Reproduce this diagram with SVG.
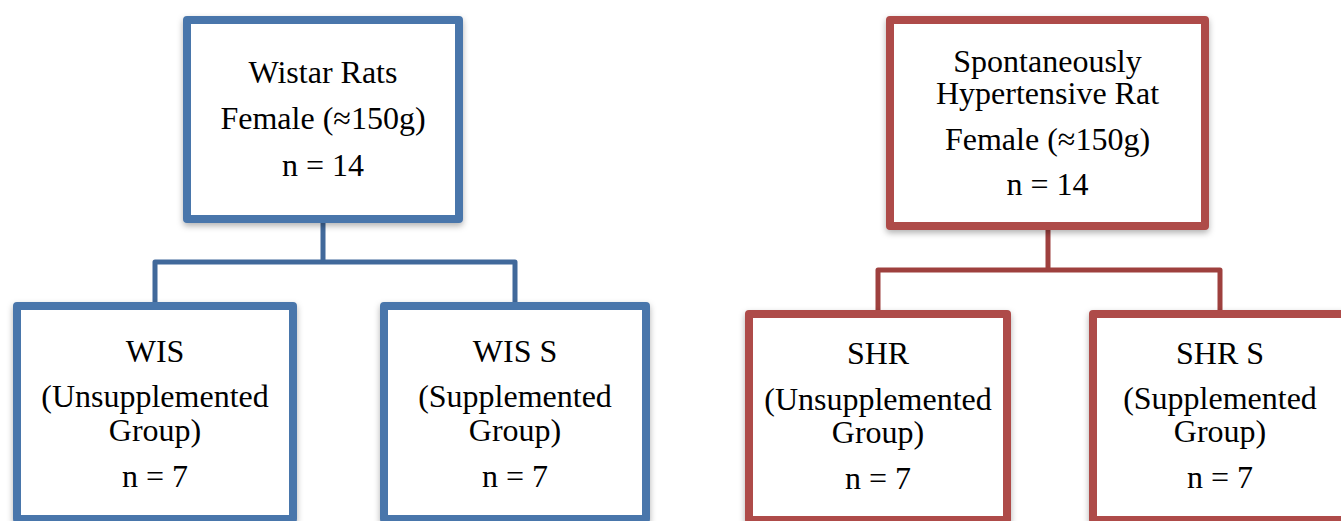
<svg xmlns="http://www.w3.org/2000/svg" width="1341" height="521" viewBox="0 0 1341 521">
<style>
.bb{fill:#fff;stroke:#4A76AB;stroke-width:8;stroke-linejoin:round;filter:url(#sh)}
.rb{fill:#fff;stroke:#AE4B48;stroke-width:8;stroke-linejoin:round;filter:url(#sh)}
.bc{fill:none;stroke:#41699B;stroke-width:5;stroke-linejoin:round}
.rc{fill:none;stroke:#9E403E;stroke-width:5;stroke-linejoin:round}
text{font-family:"Liberation Serif","Times New Roman",serif;font-size:32px;fill:#000;text-anchor:middle}
</style>
<defs>
<filter id="sh" x="-10%" y="-10%" width="120%" height="120%">
<feDropShadow dx="0" dy="3" stdDeviation="3" flood-color="#000" flood-opacity="0.3"/>
</filter>
</defs>
<rect width="1341" height="521" fill="#fff"/>
<g id="connectors">
<path class="bc" d="M323 219 V262 M155 306 V262 H515 V306"/>
<path class="rc" d="M1048 226 V270 M878 314 V270 H1220 V314"/>
</g>
<g id="wistar">
<rect class="bb" x="187" y="20" width="272" height="199"/>
<text x="323" y="83">Wistar Rats</text>
<text x="323" y="129">Female (≈150g)</text>
<text x="323" y="176">n = 14</text>
</g>
<g id="wis">
<rect class="bb" x="17" y="306" width="276" height="213"/>
<text x="155" y="362">WIS</text>
<text x="155" y="407">(Unsupplemented</text>
<text x="155" y="441">Group)</text>
<text x="155" y="487">n = 7</text>
</g>
<g id="wis-s">
<rect class="bb" x="384" y="306" width="262" height="213"/>
<text x="515" y="362">WIS S</text>
<text x="515" y="407">(Supplemented</text>
<text x="515" y="441">Group)</text>
<text x="515" y="487">n = 7</text>
</g>
<g id="shr-parent">
<rect class="rb" x="890" y="20" width="315" height="206"/>
<text x="1047.5" y="72">Spontaneously</text>
<text x="1047.5" y="104">Hypertensive Rat</text>
<text x="1047.5" y="150">Female (≈150g)</text>
<text x="1047.5" y="195">n = 14</text>
</g>
<g id="shr">
<rect class="rb" x="749" y="314" width="258" height="206"/>
<text x="878" y="364">SHR</text>
<text x="878" y="410">(Unsupplemented</text>
<text x="878" y="443">Group)</text>
<text x="878" y="489">n = 7</text>
</g>
<g id="shr-s">
<rect class="rb" x="1093" y="314" width="254" height="206"/>
<text x="1220" y="364">SHR S</text>
<text x="1220" y="409">(Supplemented</text>
<text x="1220" y="442">Group)</text>
<text x="1220" y="488">n = 7</text>
</g>
</svg>
